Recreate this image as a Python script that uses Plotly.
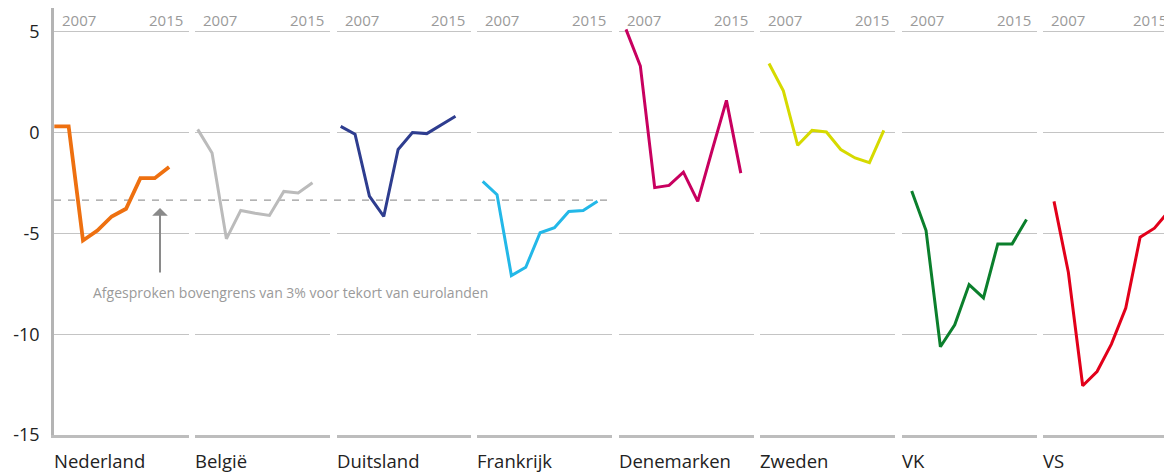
import plotly.graph_objects as go
from plotly.subplots import make_subplots

# ---------------- data ----------------
years = [2007, 2008, 2009, 2010, 2011, 2012, 2013, 2014, 2015]
countries = ["Nederland", "België", "Duitsland", "Frankrijk", "Denemarken", "Zweden", "VK", "VS"]
nederland = [0.31, 0.31, -5.35, -4.86, -4.16, -3.78, -2.26, -2.26, -1.71]
belgie = [0.16, -1.01, -5.27, -3.86, -4.0, -4.11, -2.92, -3.0, -2.49]
duitsland = [0.31, -0.08, -3.15, -4.16, -0.84, 0.0, -0.05, 0.4, 0.81]
frankrijk = [-2.42, -3.08, -7.09, -6.68, -4.97, -4.72, -3.91, -3.86, -3.41]
denemarken = [5.12, 3.3, -2.73, -2.62, -1.96, -3.41, -0.88, 1.6, -2.01]
zweden = [3.43, 2.07, -0.63, 0.11, 0.03, -0.84, -1.26, -1.49, 0.11]
vk = [-2.9, -4.86, -10.62, -9.53, -7.54, -8.2, -5.52, -5.52, -4.31]
vs = [-3.41, -6.93, -12.56, -11.85, -10.49, -8.7, -5.19, -4.74, -3.9]
series = [nederland, belgie, duitsland, frankrijk, denemarken, zweden, vk, vs]
year_labels = ["2007", "2015"]
y_ticks = [5, 0, -5, -10, -15]
y_tick_labels = ["5", "0", "-5", "-10", "-15"]
euro_limit = -3.35
note = "Afgesproken bovengrens van 3% voor tekort van eurolanden"

# ---------------- styling ----------------
colors = ["#EE7010", "#BBBBBB", "#2E3D8F", "#23B8E8", "#C8005F", "#D6DA00", "#0B7F2C", "#E2001A"]
widths = [3.8, 3, 3, 3, 3, 3, 3, 3]
FONT = "Open Sans"
W, H = 1164, 472


def px(x):
    return x / W


def py(y):
    return 1 - y / H


panel_start = [54, 195, 336.5, 477, 619, 760, 902, 1043]
first_pt = [54.3, 197.7, 340.7, 482.7, 626, 769, 911.7, 1054]
panel_w = 134.5
px_per_year = 14.35

fig = make_subplots(rows=1, cols=8, shared_yaxes=True, horizontal_spacing=0.0)

for i, (name, vals) in enumerate(zip(countries, series)):
    fig.add_trace(
        go.Scatter(x=years, y=vals, mode="lines", name=name,
                   line=dict(color=colors[i], width=widths[i]),
                   showlegend=False, hoverinfo="skip"),
        row=1, col=i + 1,
    )
    s = panel_start[i]
    e = min(s + panel_w, W)
    x0 = years[0] - (first_pt[i] - s) / px_per_year
    x1 = years[0] + (e - first_pt[i]) / px_per_year
    fig.update_xaxes(row=1, col=i + 1, domain=[px(s), px(e)], range=[x0, x1],
                     showgrid=False, zeroline=False, showticklabels=False,
                     showline=True, linecolor="#BDBDBD", linewidth=2.5, ticks="",
                     automargin=False)
    fig.update_yaxes(row=1, col=i + 1, domain=[py(435), py(8)],
                     range=[-15, 6.18], tickvals=y_ticks, ticktext=y_tick_labels,
                     showgrid=True, gridcolor="#C4C4C4", gridwidth=1,
                     zeroline=False, ticks="", showline=False, automargin=False)
    xref_dom = ("x" if i == 0 else f"x{i+1}") + " domain"
    fig.add_annotation(xref=xref_dom, yref="paper", x=0, y=py(20), xanchor="left",
                       yanchor="middle", xshift=6, text=year_labels[0], showarrow=False,
                       font=dict(family=FONT, size=15, color="#9A9A9A"))
    if s + panel_w <= W:
        fig.add_annotation(xref=xref_dom, yref="paper", x=1, y=py(20), xanchor="right",
                           yanchor="middle", xshift=-4, text=year_labels[1], showarrow=False,
                           font=dict(family=FONT, size=15, color="#9A9A9A"))
    else:
        fig.add_annotation(xref=xref_dom, yref="paper", x=0, y=py(20), xanchor="left",
                           yanchor="middle", xshift=88, text=year_labels[1], showarrow=False,
                           font=dict(family=FONT, size=15, color="#9A9A9A"))
    fig.add_annotation(xref=xref_dom, yref="paper", x=0, y=py(460), xanchor="left",
                       yanchor="middle", xshift=-2, text=name, showarrow=False,
                       font=dict(family=FONT, size=18.5, color="#222222"))

fig.update_yaxes(row=1, col=1, showticklabels=True, showline=True, linecolor="#B4B4B4",
                 linewidth=2.5, tickfont=dict(family=FONT, size=18, color="#222222"),
                 ticklabelstandoff=8)

# euro limit dashed line
fig.add_shape(type="line", xref="paper", yref="y", x0=px(54), x1=px(612),
              y0=euro_limit, y1=euro_limit,
              line=dict(color="#9A9A9A", width=1.4, dash="7px,7px"), layer="below")

# arrow + note
fig.add_annotation(xref="paper", yref="paper", x=px(160), y=py(208), ax=0, ay=66,
                   axref="pixel", ayref="pixel", text="", showarrow=True,
                   arrowhead=1, arrowsize=1.3, arrowwidth=2, arrowcolor="#8A8A8A")
fig.add_annotation(xref="paper", yref="paper", x=px(91), y=py(292), xanchor="left",
                   yanchor="middle", text=note, showarrow=False,
                   font=dict(family=FONT, size=14, color="#9A9A9A"))

fig.update_layout(width=W, height=H, margin=dict(l=0, r=0, t=0, b=0),
                  paper_bgcolor="white", plot_bgcolor="white",
                  font=dict(family=FONT))

fig.write_html("out.html",
               config={"displayModeBar": False},
               post_script="document.body.style.margin='0px';"
                           "document.documentElement.style.overflow='hidden';")
